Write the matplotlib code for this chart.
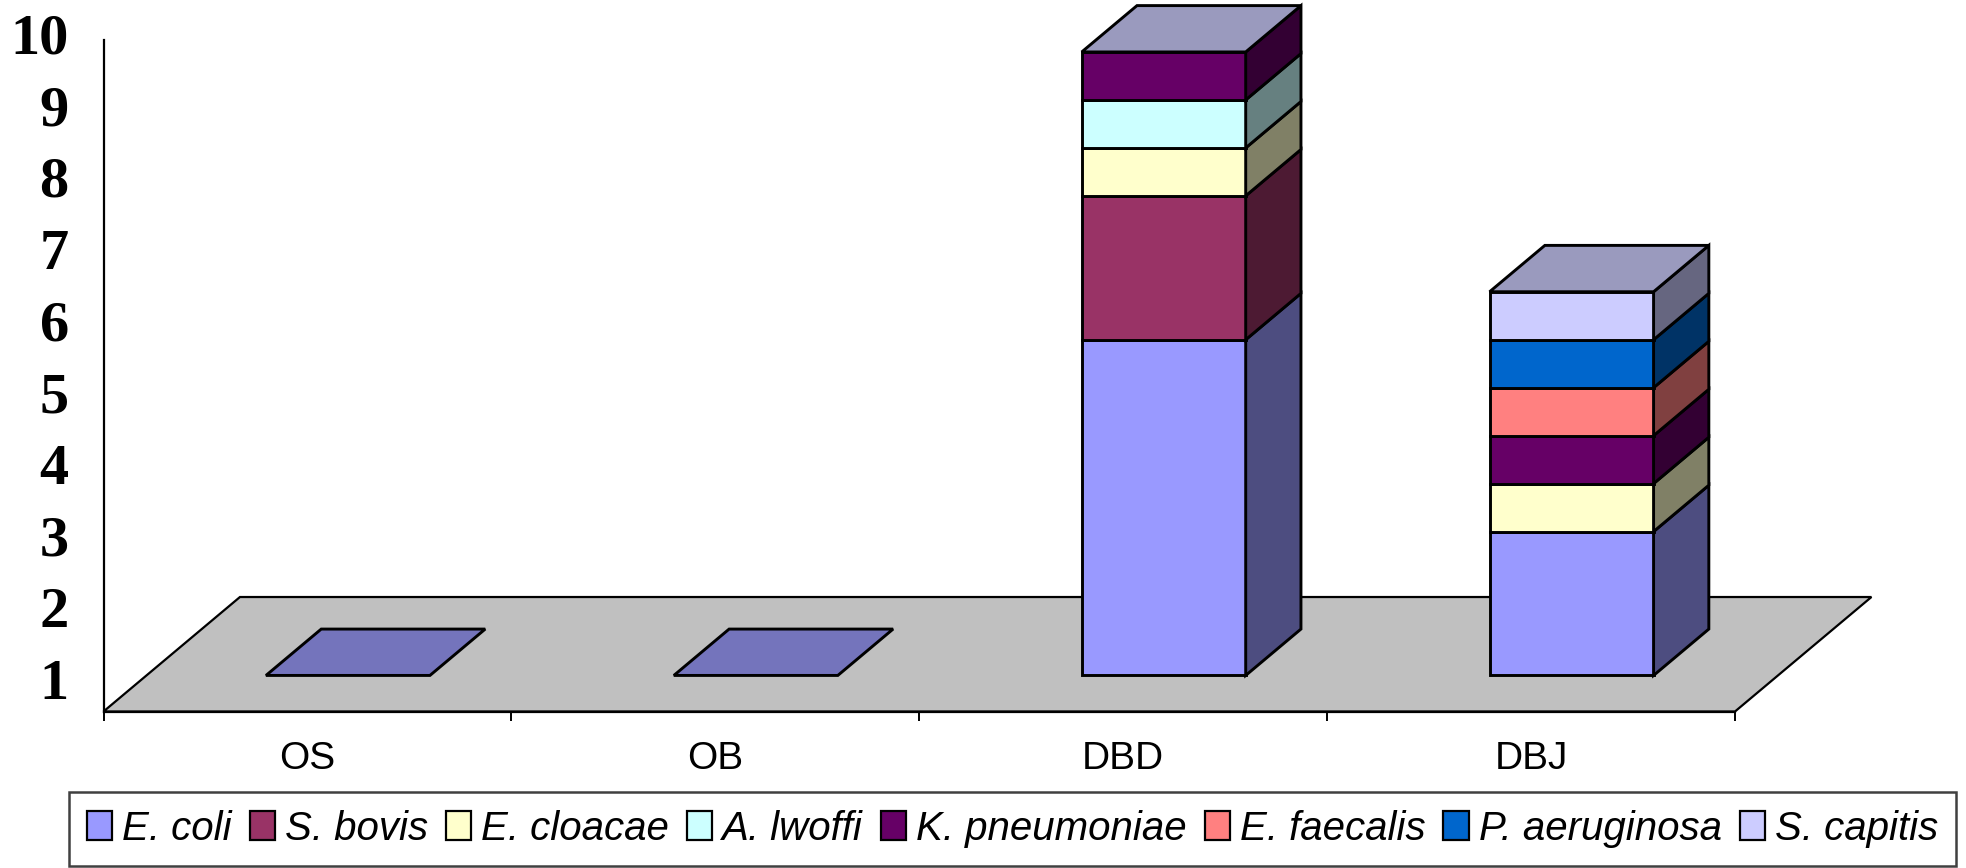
import numpy as np
import matplotlib
matplotlib.use("Agg")
import matplotlib.pyplot as plt
import matplotlib.patches as mpatches
from matplotlib.patches import Polygon

# Data
sites = ["OS", "OB", "DBD", "DBJ"]
species = ["E. coli", "S. bovis", "E. cloacae", "A. lwoffi",
           "K. pneumoniae", "E. faecalis", "P. aeruginosa", "S. capitis"]

e_coli = [0, 0, 7, 3]
s_bovis = [0, 0, 3, 0]
e_cloacae = [0, 0, 1, 1]
a_lwoffi = [0, 0, 1, 0]
k_pneumoniae = [0, 0, 1, 1]
e_faecalis = [0, 0, 0, 1]
p_aeruginosa = [0, 0, 0, 1]
s_capitis = [0, 0, 0, 1]

y_labels = ["1", "2", "3", "4", "5", "6", "7", "8", "9", "10"]

colors = ["#9999FF", "#993366", "#FFFFCC", "#CCFFFF",
          "#660066", "#FF8080", "#0066CC", "#CCCCFF"]
TOP_COLOR = "#9A9ABE"
EMPTY_COLOR = "#7474BC"
FLOOR_COLOR = "#C0C0C0"

# Oblique projection, in data units per unit of depth
DEPTH_X = 0.3345
DEPTH_Y = 2.387
BAR_WIDTH = 0.402
BAR_SHIFT = -0.006
BAR_FRONT = 0.315
BAR_BACK = 0.72

W, H = 1966, 868
UNIT_PX = 47.96
YMAX = 14.7


def project(x, y, d):
    return (x + d * DEPTH_X, y + d * DEPTH_Y)


def face(ax, pts, color, lw=2.1, z=3):
    ax.add_patch(Polygon(pts, closed=True, facecolor=color, edgecolor="black",
                         linewidth=lw, joinstyle="miter", clip_on=False, zorder=z))


def shade(color, f=0.5):
    r, g, b = matplotlib.colors.to_rgb(color)
    return (r * f, g * f, b * f)


def draw_bar(ax, i, values):
    x0 = i + 0.5 + BAR_SHIFT - BAR_WIDTH / 2
    x1 = i + 0.5 + BAR_SHIFT + BAR_WIDTH / 2
    if sum(values) == 0:
        face(ax, [project(x0, 0, BAR_FRONT), project(x1, 0, BAR_FRONT),
                  project(x1, 0, BAR_BACK), project(x0, 0, BAR_BACK)], EMPTY_COLOR)
        return
    base = 0
    for v, c in zip(values, colors):
        if v == 0:
            continue
        top = base + v
        face(ax, [project(x0, base, BAR_FRONT), project(x1, base, BAR_FRONT),
                  project(x1, top, BAR_FRONT), project(x0, top, BAR_FRONT)], c)
        face(ax, [project(x1, base, BAR_FRONT), project(x1, base, BAR_BACK),
                  project(x1, top, BAR_BACK), project(x1, top, BAR_FRONT)], shade(c))
        base = top
    face(ax, [project(x0, base, BAR_FRONT), project(x1, base, BAR_FRONT),
              project(x1, base, BAR_BACK), project(x0, base, BAR_BACK)], TOP_COLOR)


fig = plt.figure(figsize=(W / 100, H / 100), dpi=100)
ax = fig.add_axes([103.5 / W, (H - 711.5) / H, 1631.5 / W, YMAX * UNIT_PX / H])
ax.set_xlim(0, len(sites))
ax.set_ylim(0, YMAX)
ax.patch.set_alpha(0)

# floor
face(ax, [project(0, 0, 0), project(len(sites), 0, 0),
          project(len(sites), 0, 1), project(0, 0, 1)], FLOOR_COLOR, lw=1.6, z=1)

series = np.array([e_coli, s_bovis, e_cloacae, a_lwoffi,
                   k_pneumoniae, e_faecalis, p_aeruginosa, s_capitis])
for i in range(len(sites)):
    draw_bar(ax, i, series[:, i])

# axes
for s in ["top", "right"]:
    ax.spines[s].set_visible(False)
ax.spines["left"].set_bounds(0, 14)
ax.spines["left"].set_linewidth(1.6)
ax.spines["bottom"].set_linewidth(1.6)
ax.spines["bottom"].set_zorder(2)

ax.set_xticks(range(len(sites) + 1))
ax.set_xticklabels([])
ax.tick_params(axis="x", which="major", length=6.5, width=1.4)
ax.set_xticks(np.arange(len(sites)) + 0.5, minor=True)
ax.set_xticklabels(sites, minor=True, fontsize=28, family="Liberation Sans")
ax.tick_params(axis="x", which="minor", length=0, pad=21.5)

ax.set_yticks(0.68 + 1.495 * np.arange(len(y_labels)))
ax.set_yticklabels(y_labels, fontsize=42, family="Liberation Serif", fontweight="bold")
ax.tick_params(axis="y", length=0, pad=25)

# legend
handles = [mpatches.Patch(facecolor=c, edgecolor="black", linewidth=1.6, label=s)
           for c, s in zip(colors, species)]
leg = fig.legend(handles=handles, ncol=len(species), mode="expand", loc="center",
                 bbox_to_anchor=(69 / W, (H - 866) / H, 1887 / W, 74 / H),
                 borderaxespad=0, borderpad=0.44, handlelength=0.63, handleheight=0.73,
                 handletextpad=0.25, columnspacing=0.4, fancybox=False,
                 edgecolor="#404040", framealpha=1,
                 prop={"family": "Liberation Sans", "style": "italic", "size": 29})
leg.get_frame().set_linewidth(1.8)

fig.savefig("out.png", dpi=100)
plt.close(fig)
